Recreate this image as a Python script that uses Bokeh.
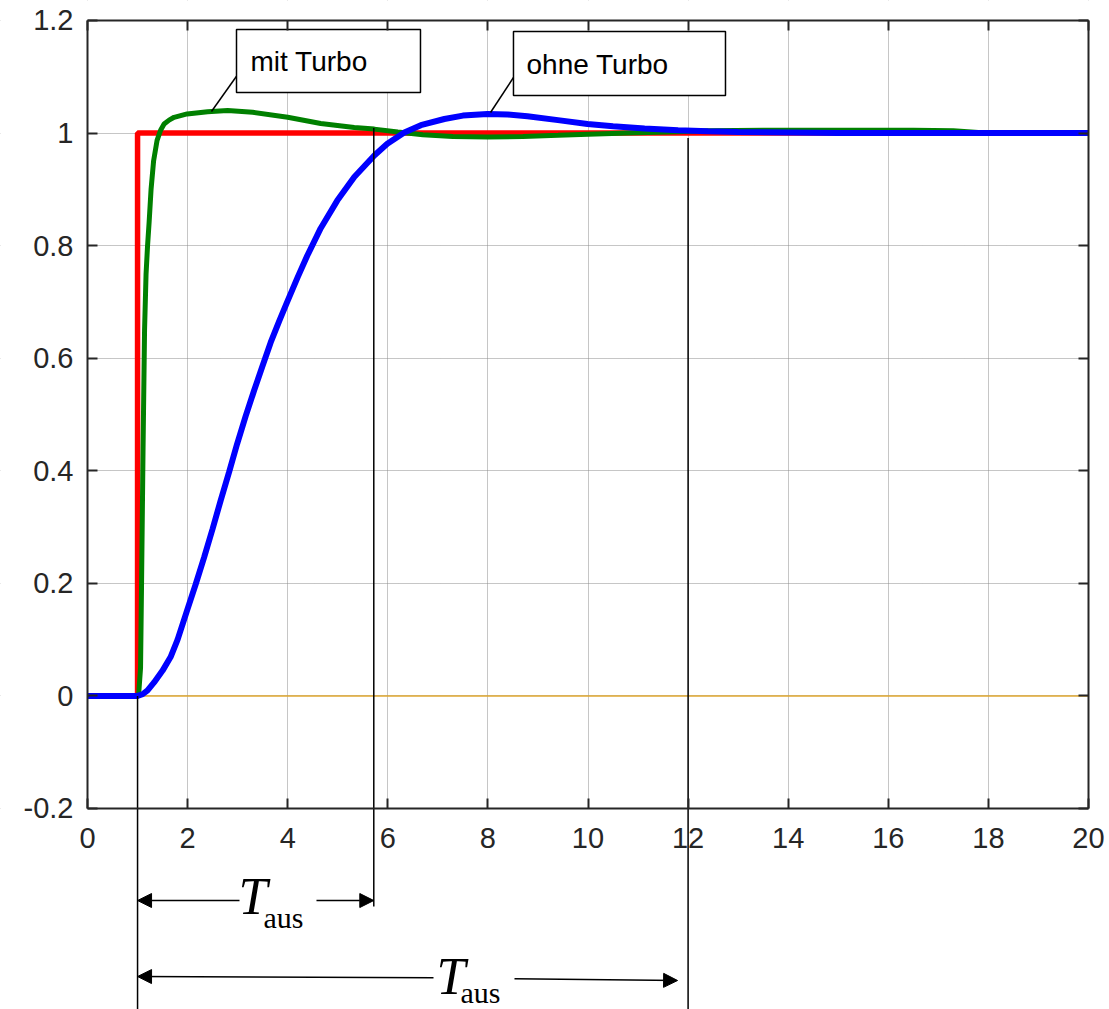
from bokeh.plotting import figure
from bokeh.models import FixedTicker, LinearAxis, Range1d, Arrow, NormalHead, Label
from bokeh.core.properties import value
from bokeh.embed import file_html
from bokeh.resources import INLINE

# ---------------- data ----------------
x_ticks = [0, 2, 4, 6, 8, 10, 12, 14, 16, 18, 20]
y_ticks = [-0.2, 0.0, 0.2, 0.4, 0.6, 0.8, 1.0, 1.2]
y_tick_labels = ["-0.2", "0", "0.2", "0.4", "0.6", "0.8", "1", "1.2"]

# reference step (red)
t_step = [0.0, 1.0, 1.0, 20.0]
y_step = [0.0, 0.0, 1.0, 1.0]

# "mit Turbo" response (green)
t_mit = [0.0, 1.0, 1.02, 1.06, 1.08, 1.11, 1.14, 1.17, 1.2, 1.23, 1.27, 1.32, 1.39,
         1.46, 1.53, 1.63, 1.73, 1.99, 2.4, 2.8, 3.3, 4.0, 4.66, 5.33, 5.73, 6.2,
         6.7, 7.3, 8.0, 8.7, 9.4, 10.0, 10.8, 11.6, 12.4, 13.5, 15.0, 16.5, 17.3,
         17.8, 18.5, 20.0]
y_mit = [0.0, 0.0, 0.0, 0.05, 0.2, 0.44, 0.65, 0.75, 0.8, 0.84, 0.9, 0.95, 0.987,
         1.005, 1.016, 1.023, 1.028, 1.034, 1.038, 1.040, 1.037, 1.028, 1.017, 1.010,
         1.007, 1.002, 0.997, 0.994, 0.993, 0.994, 0.996, 0.998, 1.0, 1.002, 1.004,
         1.005, 1.005, 1.005, 1.004, 1.001, 1.0, 1.0]

# "ohne Turbo" response (blue)
t_ohne = [0.0, 1.0, 1.1, 1.2, 1.33, 1.5, 1.66, 1.8, 1.99, 2.16, 2.33, 2.5, 2.66,
          2.83, 2.99, 3.16, 3.33, 3.5, 3.66, 3.83, 3.99, 4.2, 4.39, 4.66, 4.99,
          5.33, 5.73, 5.99, 6.33, 6.66, 7.13, 7.5, 7.99, 8.4, 8.79, 9.4, 9.99, 10.5,
          11.13, 11.8, 12.4, 13.0, 14.0, 15.0, 20.0]
y_ohne = [0.0, 0.0, 0.003, 0.01, 0.024, 0.045, 0.069, 0.10, 0.152, 0.198, 0.246,
          0.297, 0.347, 0.398, 0.448, 0.497, 0.543, 0.587, 0.628, 0.666, 0.700,
          0.744, 0.782, 0.831, 0.880, 0.922, 0.960, 0.981, 1.001, 1.014, 1.025,
          1.031, 1.034, 1.033, 1.030, 1.023, 1.016, 1.012, 1.008, 1.005, 1.003,
          1.002, 1.001, 1.0, 1.0]

t_zero = [0.0, 20.0]
y_zero = [0.0, 0.0]

t_start = 1.0        # step time
t_aus_mit = 5.72     # settling with turbo
t_aus_ohne = 12.0    # settling without turbo

# ---------------- figure ----------------
# the frame fills the canvas; the plot box [0,20]x[-0.2,1.2] is drawn by fixed axes
x_lo, x_hi = -1.7383, 20.4196
y_lo, y_hi = -0.5571, 1.2355
p = figure(width=1109, height=1009, title=None,
           x_range=Range1d(x_lo, x_hi), y_range=Range1d(y_lo, y_hi),
           output_backend="svg", toolbar_location=None,
           min_border_left=0, min_border_right=0, min_border_top=0, min_border_bottom=0)
p.outline_line_color = None
p.background_fill_color = "white"
p.border_fill_color = "white"

xt = FixedTicker(ticks=x_ticks, minor_ticks=[])
yt = FixedTicker(ticks=y_ticks, minor_ticks=[])

bottom = p.below[0]
left = p.left[0]
bottom.ticker = xt
left.ticker = yt
bottom.fixed_location = -0.2
bottom.bounds = (0, 20)
left.fixed_location = 0
left.bounds = (-0.2, 1.2)
left.major_label_overrides = {k: v for k, v in zip(y_ticks, y_tick_labels)}

top = LinearAxis(ticker=xt, fixed_location=1.2, bounds=(0, 20),
                 major_label_overrides={k: "" for k in x_ticks})
right = LinearAxis(ticker=yt, fixed_location=20, bounds=(-0.2, 1.2),
                   major_label_overrides={k: "" for k in y_ticks})
p.add_layout(top, "above")
p.add_layout(right, "right")

for ax in [bottom, left, top, right]:
    ax.axis_line_color = "#262626"
    ax.axis_line_width = 2
    ax.major_tick_in = 10
    ax.major_tick_out = 0
    ax.major_tick_line_color = "#262626"
    ax.major_tick_line_width = 2
    ax.minor_tick_line_color = None
    ax.major_label_text_font = "Liberation Sans"
    ax.major_label_text_font_size = "29px"
    ax.major_label_text_color = "#262626"
bottom.major_label_standoff = 20
left.major_label_standoff = 14
top.major_label_standoff = 0
right.major_label_standoff = 0

p.xgrid.ticker = xt
p.ygrid.ticker = yt
for g in [p.xgrid[0], p.ygrid[0]]:
    g.grid_line_color = "#8c8c8c"
    g.grid_line_dash = "1 1"
    g.grid_line_width = 1

# white masks so that the grid stays inside the plot box
p.quad(left=[x_lo, 20, x_lo, x_lo], right=[0, x_hi, x_hi, x_hi],
       bottom=[y_lo, y_lo, y_lo, 1.2], top=[y_hi, y_hi, -0.2, y_hi],
       fill_color="white", line_color=None)

# curves
p.line(t_zero, y_zero, line_color="#e0a830", line_width=1.5)
p.line(t_step, y_step, line_color="#ff0000", line_width=5.5)
p.line(t_mit, y_mit, line_color="#008000", line_width=5)
p.line(t_ohne, y_ohne, line_color="#0000ff", line_width=6)

# callout boxes
p.quad(left=[2.977, 8.511], right=[6.653, 12.747], top=[1.1839, 1.1804], bottom=[1.072, 1.0667],
       fill_color="white", line_color="black", line_width=1.5)
p.segment(x0=[2.977, 8.511], y0=[1.101, 1.0987], x1=[2.477, 8.052], y1=[1.0383, 1.0365],
          line_color="black", line_width=1.5)
p.text(x=[3.257, 8.771], y=[1.1271, 1.1218], text=["mit Turbo", "ohne Turbo"],
       text_font=value("Liberation Sans"), text_font_size="28px", text_color="black",
       text_baseline="middle", text_align="left")

# vertical marker lines
p.segment(x0=[t_start, t_aus_mit, t_aus_ohne], y0=[0.0, 1.009, 0.991],
          x1=[t_start, t_aus_mit, t_aus_ohne], y1=[-0.5571, -0.374, -0.5571],
          line_color="black", line_width=1.5)

def head():
    return NormalHead(size=14, fill_color="black", line_color="black", line_width=1)

# upper T_aus dimension
p.add_layout(Arrow(end=head(), x_start=3.037, y_start=-0.3635, x_end=t_start, y_end=-0.3635,
                   line_color="black", line_width=1.5))
p.add_layout(Arrow(end=head(), x_start=4.575, y_start=-0.3635, x_end=t_aus_mit, y_end=-0.3635,
                   line_color="black", line_width=1.5))
p.add_layout(Label(x=3.017, y=-0.3555, text="T", text_font="Liberation Serif", text_font_style="italic",
                   text_font_size="52px", text_color="black", text_baseline="middle"))
p.add_layout(Label(x=3.516, y=-0.3928, text="aus", text_font="Liberation Serif",
                   text_font_size="30px", text_color="black", text_baseline="middle"))

# lower T_aus dimension
p.add_layout(Arrow(end=head(), x_start=6.913, y_start=-0.5008, x_end=t_start, y_end=-0.4985,
                   line_color="black", line_width=1.5))
p.add_layout(Arrow(end=head(), x_start=8.531, y_start=-0.5026, x_end=11.79, y_end=-0.5056,
                   line_color="black", line_width=1.5))
p.add_layout(Label(x=6.973, y=-0.4976, text="T", text_font="Liberation Serif", text_font_style="italic",
                   text_font_size="52px", text_color="black", text_baseline="middle"))
p.add_layout(Label(x=7.452, y=-0.5262, text="aus", text_font="Liberation Serif",
                   text_font_size="30px", text_color="black", text_baseline="middle"))

open("out.html", "w").write(file_html(p, INLINE))
